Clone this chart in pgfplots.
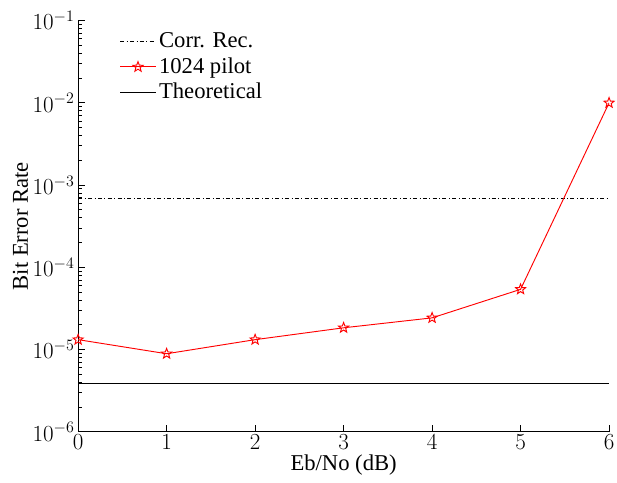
\documentclass[border=0pt]{standalone}
\usepackage{pgfplots}
\pgfplotsset{compat=1.18}
\usetikzlibrary{plotmarks}
\usepackage{fontspec}
\setmainfont{Liberation Serif}
\pgfdeclareplotmark{pentastar}{%
  \pgfpathmoveto{\pgfqpointpolar{90}{\pgfplotmarksize}}%
  \pgfpathlineto{\pgfqpointpolar{126}{0.42\pgfplotmarksize}}%
  \pgfpathlineto{\pgfqpointpolar{162}{\pgfplotmarksize}}%
  \pgfpathlineto{\pgfqpointpolar{198}{0.42\pgfplotmarksize}}%
  \pgfpathlineto{\pgfqpointpolar{234}{\pgfplotmarksize}}%
  \pgfpathlineto{\pgfqpointpolar{270}{0.42\pgfplotmarksize}}%
  \pgfpathlineto{\pgfqpointpolar{306}{\pgfplotmarksize}}%
  \pgfpathlineto{\pgfqpointpolar{342}{0.42\pgfplotmarksize}}%
  \pgfpathlineto{\pgfqpointpolar{18}{\pgfplotmarksize}}%
  \pgfpathlineto{\pgfqpointpolar{54}{0.42\pgfplotmarksize}}%
  \pgfpathclose
  \pgfusepathqstroke}
\begin{document}
\fontsize{17}{20}\selectfont
\begin{tikzpicture}
\begin{axis}[
  scale only axis,
  width=399pt, height=309pt,
  xmin=0, xmax=6,
  ymode=log, ymin=1e-6, ymax=1e-1,
  axis lines*=left,
  xtick={0,1,2,3,4,5,6},
  ytick={1e-6,1e-5,1e-4,1e-3,1e-2,1e-1},
  tick align=inside,
  tick style={black, line width=0.6pt},
  axis line style={black, line width=0.8pt},
  major tick length=5pt, minor tick length=3pt,
  xlabel={Eb/No (dB)},
  ylabel={Bit Error Rate},
  every tick label/.style={font=\fontsize{17}{20}\selectfont},
  yticklabel style={inner sep=2.5pt},
  xticklabel style={inner sep=2pt},
  label style={font=\fontsize{17}{20}\selectfont},
  xlabel style={yshift=4pt},
  ylabel style={yshift=-5pt},
  legend style={draw=none, fill=none, at={(0.07,0.985)}, anchor=north west, font=\fontsize{17}{20}\selectfont, row sep=1pt},
  legend cell align=left,
  legend image code/.code={\draw[#1] (0cm,0cm) -- (0.95cm,0cm); \draw[#1, only marks] plot coordinates {(0.475cm,0cm)};},
]
\addplot[black, dash dot, line width=0.6pt] coordinates {(0,6.8e-4) (6,6.8e-4)};
\addlegendentry{Corr. Rec.}
\addplot[red, line width=0.7pt, mark=pentastar, mark size=4pt, mark options={solid}] coordinates {
(0,1.32e-5) (1,8.9e-6) (2,1.32e-5) (3,1.84e-5) (4,2.43e-5) (5,5.4e-5) (6,1.0e-2)};
\addlegendentry{1024 pilot}
\addplot[black, line width=0.7pt] coordinates {(0,3.9e-6) (6,3.9e-6)};
\addlegendentry{Theoretical}
\end{axis}
\path (current bounding box.north) ++(0,6pt);
\path (current bounding box.west) ++(-4pt,0);
\end{tikzpicture}
\end{document}
